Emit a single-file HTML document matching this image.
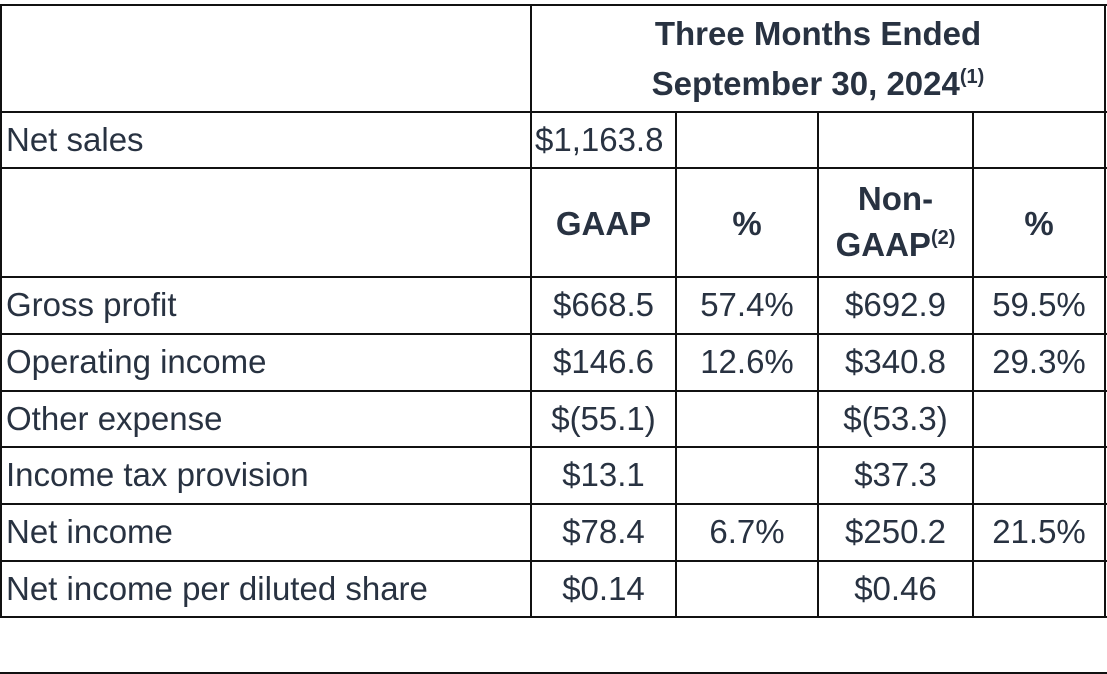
<!DOCTYPE html>
<html><head><meta charset="utf-8"><style>
body{margin:0;width:1107px;height:674px;background:#fff;position:relative;overflow:hidden;font-family:"Liberation Sans",Arial,sans-serif;color:#283241}
.h{position:absolute;height:2px;background:#111}
.v{position:absolute;width:2px;background:#111}
.t{position:absolute;font-size:33px;line-height:38px;white-space:nowrap}
.c{text-align:center}
.b{font-weight:bold;font-size:33px}
sup{font-size:20px;vertical-align:12px;line-height:0}
</style></head><body>
<div>
<div class="h" style="left:0;width:1107px;top:4px"></div>
<div class="h" style="left:0;width:1107px;top:111px"></div>
<div class="h" style="left:0;width:1107px;top:167px"></div>
<div class="h" style="left:0;width:1107px;top:276px"></div>
<div class="h" style="left:0;width:1107px;top:333px"></div>
<div class="h" style="left:0;width:1107px;top:390px"></div>
<div class="h" style="left:0;width:1107px;top:446px"></div>
<div class="h" style="left:0;width:1107px;top:503px"></div>
<div class="h" style="left:0;width:1107px;top:560px"></div>
<div class="h" style="left:0;width:1107px;top:616px"></div>
<div class="h" style="left:0;width:1107px;top:672px"></div>
<div class="v" style="left:0;top:4px;height:614px"></div>
<div class="v" style="left:530px;top:4px;height:614px"></div>
<div class="v" style="left:675px;top:111px;height:507px"></div>
<div class="v" style="left:817px;top:111px;height:507px"></div>
<div class="v" style="left:972px;top:111px;height:507px"></div>
<div class="v" style="left:1104px;top:4px;height:614px"></div>
</div>
<div class="t b c" style="left:532px;width:572px;top:15px">Three Months Ended</div>
<div class="t b c" style="left:532px;width:572px;top:65px">September 30, 2024<sup>(1)</sup></div>

<div class="t" style="left:6px;top:121px">Net sales</div>
<div class="t" style="left:535px;top:121px">$1,163.8</div>

<div class="t b c" style="left:532px;width:143px;top:205px">GAAP</div>
<div class="t b c" style="left:677px;width:140px;top:205px">%</div>
<div class="t b c" style="left:819px;width:153px;top:180px">Non-</div>
<div class="t b c" style="left:819px;width:153px;top:226px">GAAP<sup>(2)</sup></div>
<div class="t b c" style="left:974px;width:130px;top:205px">%</div>

<div id="rows"></div>
<script>
const labels=["Gross profit","Operating income","Other expense","Income tax provision","Net income","Net income per diluted share"];
const gaap=["$668.5","$146.6","$(55.1)","$13.1","$78.4","$0.14"];
const gaapPct=["57.4%","12.6%","","","6.7%",""];
const nonGaap=["$692.9","$340.8","$(53.3)","$37.3","$250.2","$0.46"];
const nonGaapPct=["59.5%","29.3%","","","21.5%",""];
const tops=[278,335,392,448,505,562];
const cols=[[532,143],[677,140],[819,153],[974,130]];
const root=document.getElementById('rows');
function mk(txt,left,width,top,center){
  const d=document.createElement('div');
  d.className='t'+(center?' c':'');
  d.style.left=left+'px';if(width)d.style.width=width+'px';
  d.style.top=(top+8)+'px';d.textContent=txt;
  root.appendChild(d);return d;
}
labels.forEach((l,i)=>{
  let d=mk(l,6,0,tops[i],false);
  
  
  [gaap,gaapPct,nonGaap,nonGaapPct].forEach((arr,j)=>{
    let e=mk(arr[i],cols[j][0],cols[j][1],tops[i],true);
    
    
  });
});
</script>
</body></html>
